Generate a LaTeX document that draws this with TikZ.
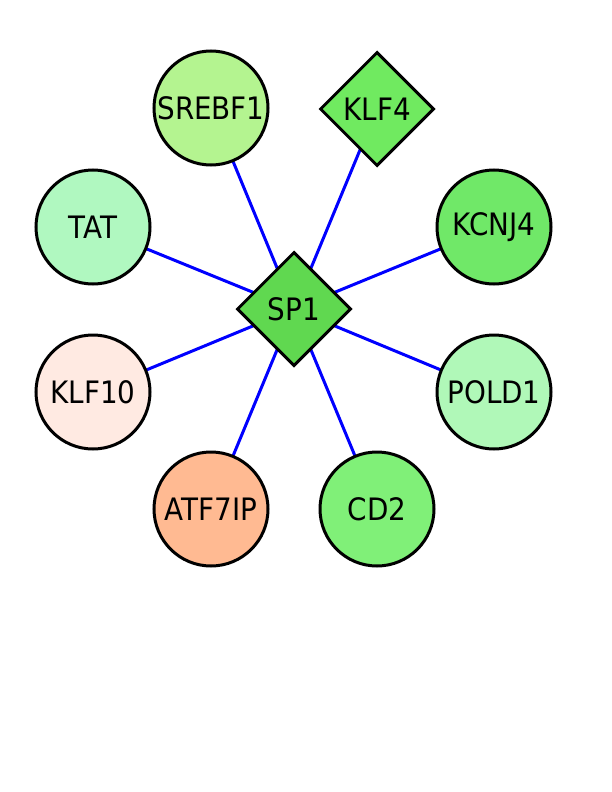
\documentclass[tikz,border=0pt]{standalone}
\usepackage{fontspec}
\setmainfont{DejaVu Sans}[FakeStretch=0.9]
\usetikzlibrary{shapes.geometric}
\definecolor{cSREBF}{RGB}{180,244,144}
\definecolor{cKLFfour}{RGB}{112,234,96}
\definecolor{cSP}{RGB}{96,216,80}
\definecolor{cTAT}{RGB}{176,248,192}
\definecolor{cKCNJ}{RGB}{112,232,104}
\definecolor{cPOLD}{RGB}{176,248,184}
\definecolor{cKLFten}{RGB}{255,234,226}
\definecolor{cATF}{RGB}{255,186,146}
\definecolor{cCD}{RGB}{128,240,120}
\tikzset{
  gene/.style={circle,draw=black,line width=3bp,minimum size=114bp,inner sep=0pt,font=\fontsize{31}{31}\selectfont},
  hub/.style={diamond,draw=black,line width=3bp,minimum width=114bp,minimum height=114bp,inner sep=0pt,font=\fontsize{31}{31}\selectfont},
  link/.style={draw=blue,line width=3bp}
}
\begin{document}
\begin{tikzpicture}[x=1bp,y=-1bp]
\useasboundingbox (0,0) rectangle (612,792);
\fill[white] (0,0) rectangle (612,792);
\coordinate (pSP) at (294,309);
\coordinate (pSREBF) at (211,108);
\coordinate (pKLFfour) at (377,109);
\coordinate (pTAT) at (93,227);
\coordinate (pKCNJ) at (494,227);
\coordinate (pKLFten) at (93,392);
\coordinate (pPOLD) at (494,392);
\coordinate (pATF) at (211,509);
\coordinate (pCD) at (377,509);
\draw[link] (pSP) -- (pSREBF);
\draw[link] (pSP) -- (pKLFfour);
\draw[link] (pSP) -- (pTAT);
\draw[link] (pSP) -- (pKCNJ);
\draw[link] (pSP) -- (pKLFten);
\draw[link] (pSP) -- (pPOLD);
\draw[link] (pSP) -- (pATF);
\draw[link] (pSP) -- (pCD);
\node[gene,fill=cSREBF] (SREBF) at (pSREBF) {SREBF1};
\node[hub,fill=cKLFfour] (KLFfour) at (pKLFfour) {KLF4};
\node[gene,fill=cTAT] (TAT) at (pTAT) {TAT};
\node[gene,fill=cKCNJ] (KCNJ) at (pKCNJ) {KCNJ4};
\node[gene,fill=cKLFten] (KLFten) at (pKLFten) {KLF10};
\node[gene,fill=cPOLD] (POLD) at (pPOLD) {POLD1};
\node[gene,fill=cATF] (ATF) at (pATF) {ATF7IP};
\node[gene,fill=cCD] (CD) at (pCD) {CD2};
\node[hub,fill=cSP] (SP) at (pSP) {SP1};
\end{tikzpicture}
\end{document}
